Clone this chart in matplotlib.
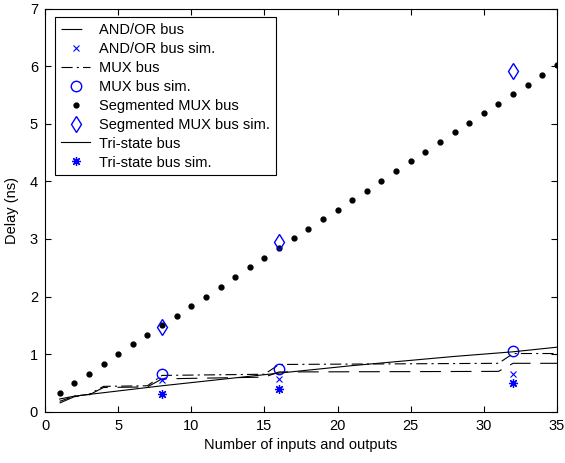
import matplotlib
matplotlib.use('Agg')
import matplotlib.pyplot as plt

plt.rcParams['font.family'] = ['Liberation Sans', 'DejaVu Sans']
plt.rcParams['lines.scale_dashes'] = False

# segmented MUX bus, one point per integer size 1..35
seg_n = list(range(1, 36))
seg_delay = [0.33, 0.50, 0.66, 0.83, 1.00, 1.17, 1.33, 1.50, 1.67, 1.84,
             2.00, 2.17, 2.34, 2.51, 2.67, 2.84, 3.01, 3.17, 3.34, 3.51,
             3.68, 3.84, 4.01, 4.18, 4.35, 4.51, 4.68, 4.85, 5.01, 5.18,
             5.35, 5.52, 5.68, 5.85, 6.02]

# stepped model curves (jumps at powers of two)
step_n = [1, 2, 3, 4, 7, 8, 15, 16, 31, 32, 35]
andor_delay = [0.15, 0.26, 0.29, 0.42, 0.43, 0.57, 0.60, 0.69, 0.70, 0.84, 0.84]
mux_delay = [0.18, 0.27, 0.30, 0.44, 0.45, 0.63, 0.65, 0.82, 0.84, 1.01, 1.01]

tri_n = [1, 2, 3, 8, 12, 16, 21, 28, 32, 35]
tri_delay = [0.22, 0.27, 0.30, 0.45, 0.56, 0.67, 0.80, 0.96, 1.04, 1.12]

# simulation results
sim_n = [8, 16, 32]
andor_sim = [0.55, 0.56, 0.65]
mux_sim = [0.65, 0.75, 1.05]
seg_sim = [1.47, 2.95, 5.92]
tri_sim = [0.31, 0.39, 0.49]

fig = plt.figure(figsize=(5.65, 4.63), dpi=100)
ax = fig.add_axes([45/565, 1-411.7/463, 512/565, 403.2/463])

blue = (0, 0, 1)
ax.plot(step_n, andor_delay, color='k', lw=0.8, dashes=(15, 7), label='AND/OR bus')
ax.plot(sim_n, andor_sim, 'x', color=blue, ms=5, mew=0.8, label='AND/OR bus sim.')
ax.plot(step_n, mux_delay, color='k', lw=0.8, dashes=(8, 3, 1.5, 3), label='MUX bus')
ax.plot(sim_n, mux_sim, 'o', mfc='none', mec=blue, ms=7.5, mew=1.0, label='MUX bus sim.')
ax.plot(seg_n, seg_delay, 'o', color='k', ms=3.5, ls='none', label='Segmented MUX bus')
ax.plot(sim_n, seg_sim, 'd', mfc='none', mec=blue, ms=8, mew=1.0, label='Segmented MUX bus sim.')
ax.plot(tri_n, tri_delay, color='k', lw=0.8, label='Tri-state bus')
ax.plot(sim_n, tri_sim, marker=(8, 2, 0), color=blue, ls='none', ms=6.5, mew=0.9, label='Tri-state bus sim.')

ax.set_xlim(0, 35)
ax.set_ylim(0, 7)
ax.set_xticks(range(0, 36, 5))
ax.set_yticks(range(0, 8))
ax.tick_params(direction='in', top=True, right=True, length=4, labelsize=10.5, width=0.8, pad=5)
for s in ax.spines.values():
    s.set_linewidth(0.8)
ax.set_xlabel('Number of inputs and outputs', fontsize=10.5, labelpad=4)
ax.set_ylabel('Delay (ns)', fontsize=10.5, labelpad=8)

leg = ax.legend(loc='upper left', bbox_to_anchor=(55.3/565, 1-17/463),
                bbox_transform=fig.transFigure, borderaxespad=0,
                fancybox=False, framealpha=1, edgecolor='k', fontsize=10.5,
                handlelength=2.0, handletextpad=0.6, labelspacing=0.34,
                borderpad=0.4, numpoints=1)
leg.get_frame().set_linewidth(0.8)

fig.savefig('out.png', dpi=100)
